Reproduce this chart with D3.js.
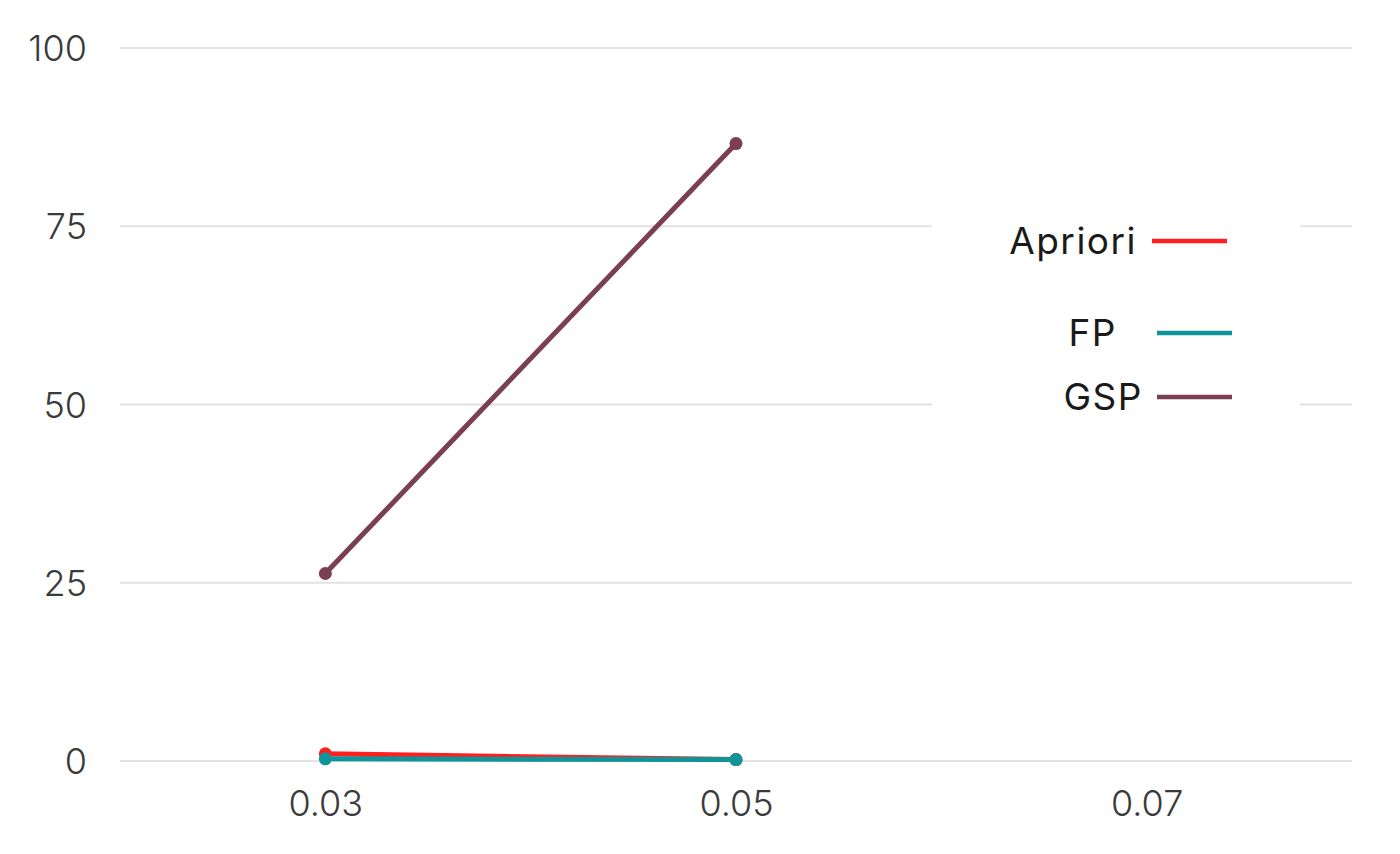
<!DOCTYPE html>
<html><head><meta charset="utf-8">
<script src="https://cdn.jsdelivr.net/npm/d3@7"></script>
<style>html,body{margin:0;padding:0;background:#fff;}svg{display:block;}</style>
</head><body>
<svg id="chart" width="1400" height="854"></svg>
<script>
// Data
const categories = [0.03, 0.05];
const xTicks = [0.03, 0.05, 0.07];
const xTickLabels = ["0.03", "0.05", "0.07"];
const yTicks = [0, 25, 50, 75, 100];
const seriesNames = ["Apriori", "FP", "GSP"];
const aprioriValues = [1.0, 0.2];
const fpValues = [0.3, 0.2];
const gspValues = [26.3, 86.6];
const seriesColors = ["#ff1f1f", "#0f9499", "#7a3f52"];

const series = [
  {name: seriesNames[0], values: aprioriValues, color: seriesColors[0]},
  {name: seriesNames[1], values: fpValues, color: seriesColors[1]},
  {name: seriesNames[2], values: gspValues, color: seriesColors[2]}
];

// Layout
const svg = d3.select("#chart");
const x = d3.scaleLinear().domain([0.02, 0.08]).range([120, 1352]);
const y = d3.scaleLinear().domain([0, 100]).range([761, 48]);

// Gridlines
svg.append("g").selectAll("line").data(yTicks).join("line")
  .attr("x1", x.range()[0]).attr("x2", x.range()[1])
  .attr("y1", d => y(d)).attr("y2", d => y(d))
  .attr("stroke", "#e2e2e2").attr("stroke-width", 2);

// Y axis labels
const yAxis = d3.axisLeft(y).tickValues(yTicks).tickSize(0).tickPadding(0).tickFormat(d3.format("d"));
const gy = svg.append("g").attr("transform", "translate(87,0)").call(yAxis);
gy.select(".domain").remove();
gy.selectAll("text").attr("font-family", "Inter, sans-serif").attr("font-weight", 300)
  .attr("font-size", 36).attr("fill", "#3a3a3a").attr("dy", "0.35em");

// X axis labels
const xAxis = d3.axisBottom(x).tickValues(xTicks).tickSize(0).tickPadding(0)
  .tickFormat((d, i) => xTickLabels[i]);
const gx = svg.append("g").attr("transform", "translate(0,790)").call(xAxis);
gx.select(".domain").remove();
gx.selectAll("text").attr("font-family", "Inter, sans-serif").attr("font-weight", 300)
  .attr("font-size", 36).attr("fill", "#3a3a3a").attr("dy", "0.71em");

// Lines
const line = d3.line().x((d, i) => x(categories[i])).y(d => y(d));
const sg = svg.append("g").selectAll("g").data(series).join("g");
sg.append("path").attr("d", d => line(d.values)).attr("fill", "none")
  .attr("stroke", d => d.color).attr("stroke-width", 5).attr("stroke-linecap", "round");
sg.selectAll("circle").data(d => d.values.map(v => ({v, c: d.color}))).join("circle")
  .attr("cx", (d, i) => x(categories[i])).attr("cy", d => y(d.v)).attr("r", 6.5)
  .attr("fill", d => d.c);

// Legend
const legendLayout = [
  {tx: 1137, ty: 241, lx1: 1152, lx2: 1227},
  {tx: 1117, ty: 333, lx1: 1157, lx2: 1232},
  {tx: 1143, ty: 397, lx1: 1157, lx2: 1232}
];
const lg = svg.append("g");
lg.append("rect").attr("x", 932).attr("y", 200).attr("width", 368).attr("height", 228).attr("fill", "#fff");
const items = lg.selectAll("g").data(series).join("g");
items.append("text").attr("x", (d, i) => legendLayout[i].tx).attr("y", (d, i) => legendLayout[i].ty)
  .attr("text-anchor", "end").attr("dy", "0.35em")
  .attr("font-family", "Inter, sans-serif").attr("font-size", 37).attr("letter-spacing", 1.5)
  .attr("fill", "#1a1a1a")
  .text(d => d.name);
items.append("line").attr("x1", (d, i) => legendLayout[i].lx1).attr("x2", (d, i) => legendLayout[i].lx2)
  .attr("y1", (d, i) => legendLayout[i].ty).attr("y2", (d, i) => legendLayout[i].ty)
  .attr("stroke", d => d.color).attr("stroke-width", 4.5);
</script>
</body></html>
